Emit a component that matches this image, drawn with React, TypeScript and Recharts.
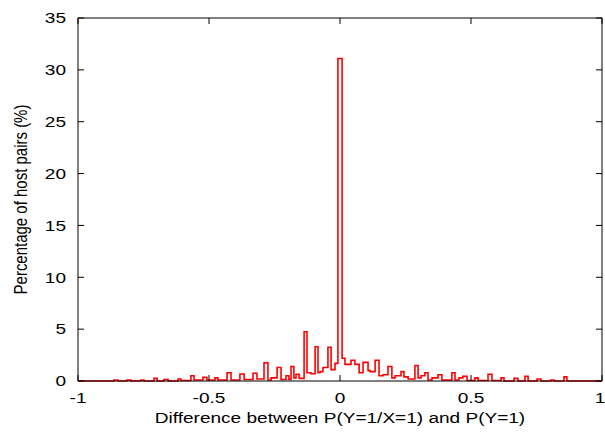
import React from "react";
import { Line, LineChart, XAxis, YAxis } from "recharts";

// left edge of each histogram step (difference value) and its height in %
const binStart = [
  -1, -0.863, -0.847, -0.813, -0.798, -0.76, -0.748, -0.71, -0.698, -0.672, -0.656, -0.618, -0.607,
  -0.569, -0.557, -0.523, -0.508, -0.477, -0.466, -0.431, -0.416, -0.382, -0.366, -0.332, -0.317,
  -0.29, -0.275, -0.263, -0.24, -0.225, -0.206, -0.195, -0.187, -0.176, -0.168, -0.156, -0.137,
  -0.126, -0.111, -0.095, -0.084, -0.076, -0.065, -0.046, -0.034, -0.019, -0.008, 0.008, 0.019,
  0.042, 0.057, 0.073, 0.088, 0.107, 0.115, 0.134, 0.149, 0.164, 0.183, 0.198, 0.21, 0.233, 0.244,
  0.26, 0.286, 0.298, 0.309, 0.324, 0.336, 0.351, 0.374, 0.389, 0.427, 0.439, 0.454, 0.469, 0.485,
  0.515, 0.527, 0.565, 0.58, 0.615, 0.626, 0.664, 0.679, 0.706, 0.718, 0.752, 0.767, 0.805, 0.817,
  0.855, 0.866, 1,
];
const pct = [
  0, 0.1, 0, 0.1, 0, 0.1, 0, 0.25, 0, 0.15, 0, 0.2, 0.05,
  0.5, 0.1, 0.35, 0.1, 0.3, 0.1, 0.8, 0.1, 0.67, 0.15, 0.75, 0.2,
  1.76, 0.1, 0.3, 1.3, 0.15, 0.5, 0.15, 1.4, 0.3, 0.65, 0.25, 4.75,
  0.8, 0.7, 3.3, 0.8, 0.9, 1.3, 3.25, 1.1, 1.7, 31.1, 2.2, 1.6,
  2.0, 1.6, 0.8, 1.8, 1.0, 0.9, 2.0, 0.5, 0.6, 1.4, 0.3, 0.5, 0.9, 0.4,
  0.2, 1.5, 0.3, 0.5, 0.8, 0.1, 0.3, 0.6, 0.1, 0.8, 0.1, 0.3, 0.45, 0.05,
  0.3, 0.05, 0.65, 0.05, 0.3, 0, 0.25, 0, 0.45, 0, 0.2, 0, 0.1, 0,
  0.4, 0, 0,
];

const xTicks = [-1, -0.5, 0, 0.5, 1];
const yTicks = [0, 5, 10, 15, 20, 25, 30, 35];

const data = binStart.map((x, i) => ({ x, pct: pct[i] }));

const FONT = "'Liberation Sans', Arial, sans-serif";
const FS = 15;
const SX = 1.27; // the original image is stretched sideways
const TICK = 6;

const Stretched = ({ x, y, anchor, dy, rotate, children }: any) => (
  <g transform={`translate(${x},${y}) scale(${SX},1)${rotate ? " rotate(-90)" : ""}`}>
    <text x={0} y={0} dy={dy} textAnchor={anchor} fontSize={FS} fontFamily={FONT} fill="#000">
      {children}
    </text>
  </g>
);

const BottomTick = ({ x, y, payload }: any) => (
  <g>
    <line x1={x} x2={x} y1={y - 11} y2={y - 11 - TICK} stroke="#000" />
    <Stretched x={payload.value === 1 ? x - 2 : x} y={y} dy="0.71em" anchor="middle">
      {payload.value}
    </Stretched>
  </g>
);

const LeftTick = ({ x, y, payload }: any) => (
  <g>
    <line x1={x + 12} x2={x + 12 + TICK} y1={y} y2={y} stroke="#000" />
    <Stretched x={x} y={y} dy="0.355em" anchor="end">
      {payload.value}
    </Stretched>
  </g>
);

// mirrored inward ticks on the top and right edges
const TopTick = ({ x, y }: any) => <line x1={x} x2={x} y1={y} y2={y + TICK} stroke="#000" />;
const RightTick = ({ x, y }: any) => <line x1={x} x2={x - TICK} y1={y} y2={y} stroke="#000" />;

const XLabel = ({ viewBox }: any) => (
  <Stretched x={viewBox.x + viewBox.width / 2} y={viewBox.y + viewBox.height - 15} anchor="middle">
    Difference between P(Y=1/X=1) and P(Y=1)
  </Stretched>
);

const YLabel = ({ viewBox }: any) => (
  <Stretched x={27} y={viewBox.y + viewBox.height / 2} anchor="middle" rotate>
    Percentage of host pairs (%)
  </Stretched>
);

export default function App() {
  return (
    <div style={{ width: 605, height: 438 }}>
      <style>{`body{margin:0}`}</style>
      <LineChart width={605} height={438} data={data} margin={{ top: 17, right: 2, bottom: 0, left: 0 }}>
        <XAxis
          dataKey="x"
          type="number"
          domain={[-1, 1]}
          ticks={xTicks}
          height={57}
          tickSize={0}
          tickMargin={11}
          tick={<BottomTick />}
          stroke="#000"
          interval={0}
          label={<XLabel />}
        />
        <XAxis
          xAxisId="top"
          orientation="top"
          dataKey="x"
          type="number"
          domain={[-1, 1]}
          ticks={xTicks}
          height={1}
          tickSize={0}
          tickMargin={0}
          tick={<TopTick />}
          stroke="#000"
          interval={0}
        />
        <YAxis
          type="number"
          domain={[0, 35]}
          ticks={yTicks}
          width={78}
          tickSize={0}
          tickMargin={12}
          tick={<LeftTick />}
          stroke="#000"
          interval={0}
          label={<YLabel />}
        />
        <YAxis
          yAxisId="right"
          orientation="right"
          type="number"
          domain={[0, 35]}
          ticks={yTicks}
          width={1}
          tickSize={0}
          tickMargin={0}
          tick={<RightTick />}
          stroke="#000"
          interval={0}
        />
        {/* invisible copy so the mirrored top/right axes get drawn */}
        <Line
          xAxisId="top"
          yAxisId="right"
          type="stepAfter"
          dataKey="pct"
          stroke="transparent"
          dot={false}
          activeDot={false}
          isAnimationActive={false}
        />
        <Line
          type="stepAfter"
          dataKey="pct"
          stroke="#ff0000"
          strokeWidth={1.6}
          dot={false}
          isAnimationActive={false}
        />
      </LineChart>
    </div>
  );
}
